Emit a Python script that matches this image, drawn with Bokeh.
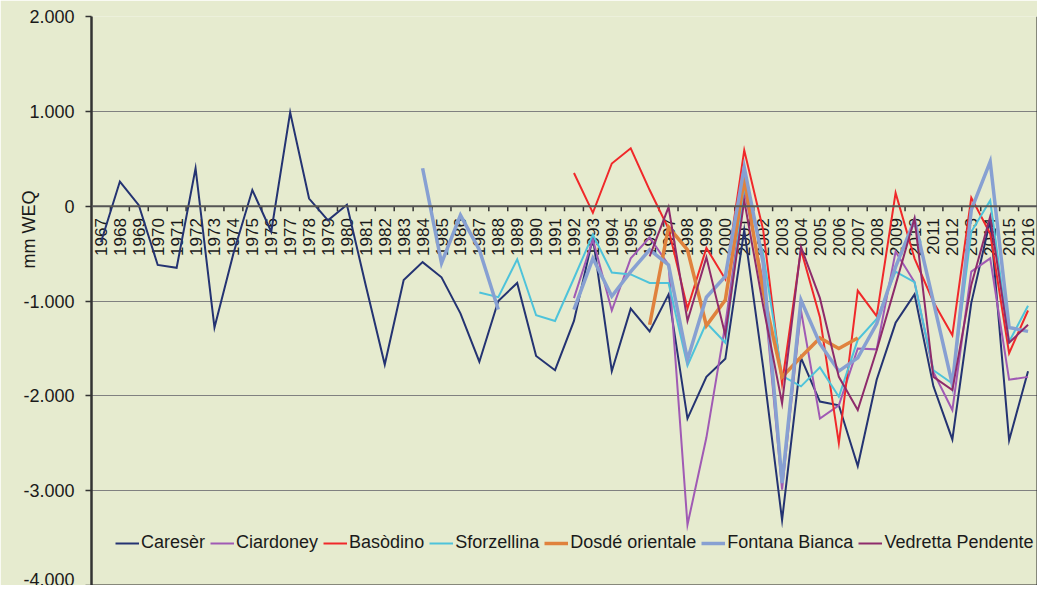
import math
import numpy as np
from bokeh.plotting import figure
from bokeh.models import Span, Title, Legend, LegendItem, FixedTicker, ColumnDataSource
from bokeh.core.properties import value
from bokeh.embed import file_html
from bokeh.resources import INLINE

nan = float("nan")

years = list(range(1967, 2017))
year_labels = [str(y) for y in years]

y_ticks = [-4000, -3000, -2000, -1000, 0, 1000, 2000]
y_tick_labels = ["-4.000", "-3.000", "-2.000", "-1.000", "0", "1.000", "2.000"]
grid_ticks = [-3000, -2000, -1000, 1000]

# mm WEQ per year
careser = [-380, 260, 10, -620, -650, 400, -1280, -500, 170, -270,
           990, 80, -150, 15, -840, -1670, -780, -590, -750, -1130,
           -1640, -1000, -810, -1580, -1730, -1210, -330, -1740, -1080, -1320,
           -930, -2240, -1800, -1610, -250, -1700, -3310, -1600, -2060, -2100,
           -2740, -1830, -1230, -930, -1900, -2460, -1020, -150, -2470, -1740]

ciardoney_years = list(range(1992, 2017))
ciardoney = [-970, -350, -1100, -550, -330, -620, -3360, -2440, -1250, 170,
             -800, -2990, -1100, -2240, -2100, -1500, -1510, -480, -800, -1750,
             -2150, -690, -550, -1830, -1800]

basodino_years = list(range(1992, 2017))
basodino = [350, -70, 450, 610, 170, -240, -1080, -440, -770, 590,
            -250, -1870, -460, -1170, -2500, -890, -1160, 140, -550, -1010,
            -1360, 90, -290, -1550, -1100]

sforzellina_years = list(range(1987, 2017))
sforzellina = [-910, -960, -560, -1150, -1210, -760, -300, -700, -720, -810,
               -810, -1680, -1230, -1440, 200, -500, -1790, -1900, -1700, -2010,
               -1410, -1190, -690, -800, -1730, -1870, -270, 60, -1430, -1050]

dosde_years = list(range(1996, 2008))
dosde = [-1250, -220, -460, -1260, -990, 290, -900, -1800, -1590, -1390, -1500, -1390]

fontana_years = list(range(1984, 2017))
fontana = [400, -600, -95, -460, -1090, nan, nan, nan, -1090, -550,
           -950, -690, -460, -620, -1620, -960, -740, 410, -600, -2920,
           -990, -1450, -1740, -1600, -1240, -640, -150, -1010, -1880, -40,
           470, -1280, -1320]

vedretta_years = list(range(1996, 2017))
vedretta = [-530, -10, -1210, -540, -1360, 60, -1050, -2080, -430, -970,
            -1800, -2150, -1520, -830, -130, -1800, -1940, -830, -110, -1440, -1250]

series = [
    ("Caresèr", years, careser, "#243372", 2),
    ("Ciardoney", ciardoney_years, ciardoney, "#A05AB4", 2),
    ("Basòdino", basodino_years, basodino, "#F0282A", 2),
    ("Sforzellina", sforzellina_years, sforzellina, "#4EC3DA", 2),
    ("Dosdé orientale", dosde_years, dosde, "#E0823D", 3.5),
    ("Fontana Bianca", fontana_years, fontana, "#87A0D2", 3.5),
    ("Vedretta Pendente", vedretta_years, vedretta, "#8E2B6B", 2),
]

BG = "#E6EBCF"
FONT = "Liberation Sans"

p = figure(width=1037, height=585, x_range=(1966.5, 2016.5), y_range=(-4000, 2000),
           output_backend="svg", toolbar_location=None, x_axis_location=None,
           min_border_left=91, min_border_right=0, min_border_top=16, min_border_bottom=0)
p.background_fill_color = BG
p.border_fill_color = BG
p.outline_line_color = None

p.xgrid.visible = False
p.ygrid.ticker = FixedTicker(ticks=grid_ticks)
p.ygrid.grid_line_color = "#808080"
p.ygrid.grid_line_width = 1

yax = p.yaxis[0]
yax.ticker = FixedTicker(ticks=y_ticks)
yax.major_label_overrides = {t: l for t, l in zip(y_ticks, y_tick_labels)}
yax.axis_line_color = "#333333"
yax.axis_line_width = 2.5
yax.major_tick_line_color = "#333333"
yax.major_tick_line_width = 1.5
yax.major_tick_out = 6
yax.major_tick_in = 0
yax.minor_tick_line_color = None
yax.major_label_standoff = 11
yax.major_label_text_font = FONT
yax.major_label_text_font_size = "18px"
yax.major_label_text_color = "#1a1a1a"

# frame edges on right and bottom
p.add_layout(Span(location=2016.5, dimension="height", line_color="#262626", line_width=2))
p.add_layout(Span(location=-4000, dimension="width", line_color="#262626", line_width=2))

# category axis drawn along zero
p.add_layout(Span(location=0, dimension="width", line_color="#555555", line_width=2))
bounds = [y + 0.5 for y in years[:-1]]
tick_len = 5 * 6000 / 569
p.segment(x0=bounds, y0=[0] * len(bounds), x1=bounds, y1=[-tick_len] * len(bounds),
          line_color="#333333", line_width=1.5)
p.text(x=years, y=[0] * len(years), text=year_labels, angle=math.pi / 2,
       text_align="right", text_baseline="middle", y_offset=12,
       text_font=value(FONT), text_font_size="17px", text_color="#1a1a1a")

items = []
for name, xs, ys, color, lw in series:
    src = ColumnDataSource(dict(x=xs, y=np.array(ys, dtype=float)))
    r = p.line("x", "y", source=src, line_color=color, line_width=lw, line_join="miter")
    items.append(LegendItem(label=name, renderers=[r]))

legend = Legend(items=items, orientation="horizontal", location=(24, 32),
                glyph_width=24, glyph_height=18, label_standoff=2, spacing=5,
                padding=0, margin=0, border_line_color=None,
                background_fill_alpha=0, label_text_font=FONT,
                label_text_font_size="18px", label_text_color="#1a1a1a")
p.add_layout(legend, "center")

p.add_layout(Title(text="mm WEQ", align="right", offset=174, vertical_align="bottom",
                   standoff=-36, text_font=FONT, text_font_size="18px",
                   text_font_style="normal", text_color="#1a1a1a"), "left")

open("out.html", "w").write(file_html(p, INLINE))
